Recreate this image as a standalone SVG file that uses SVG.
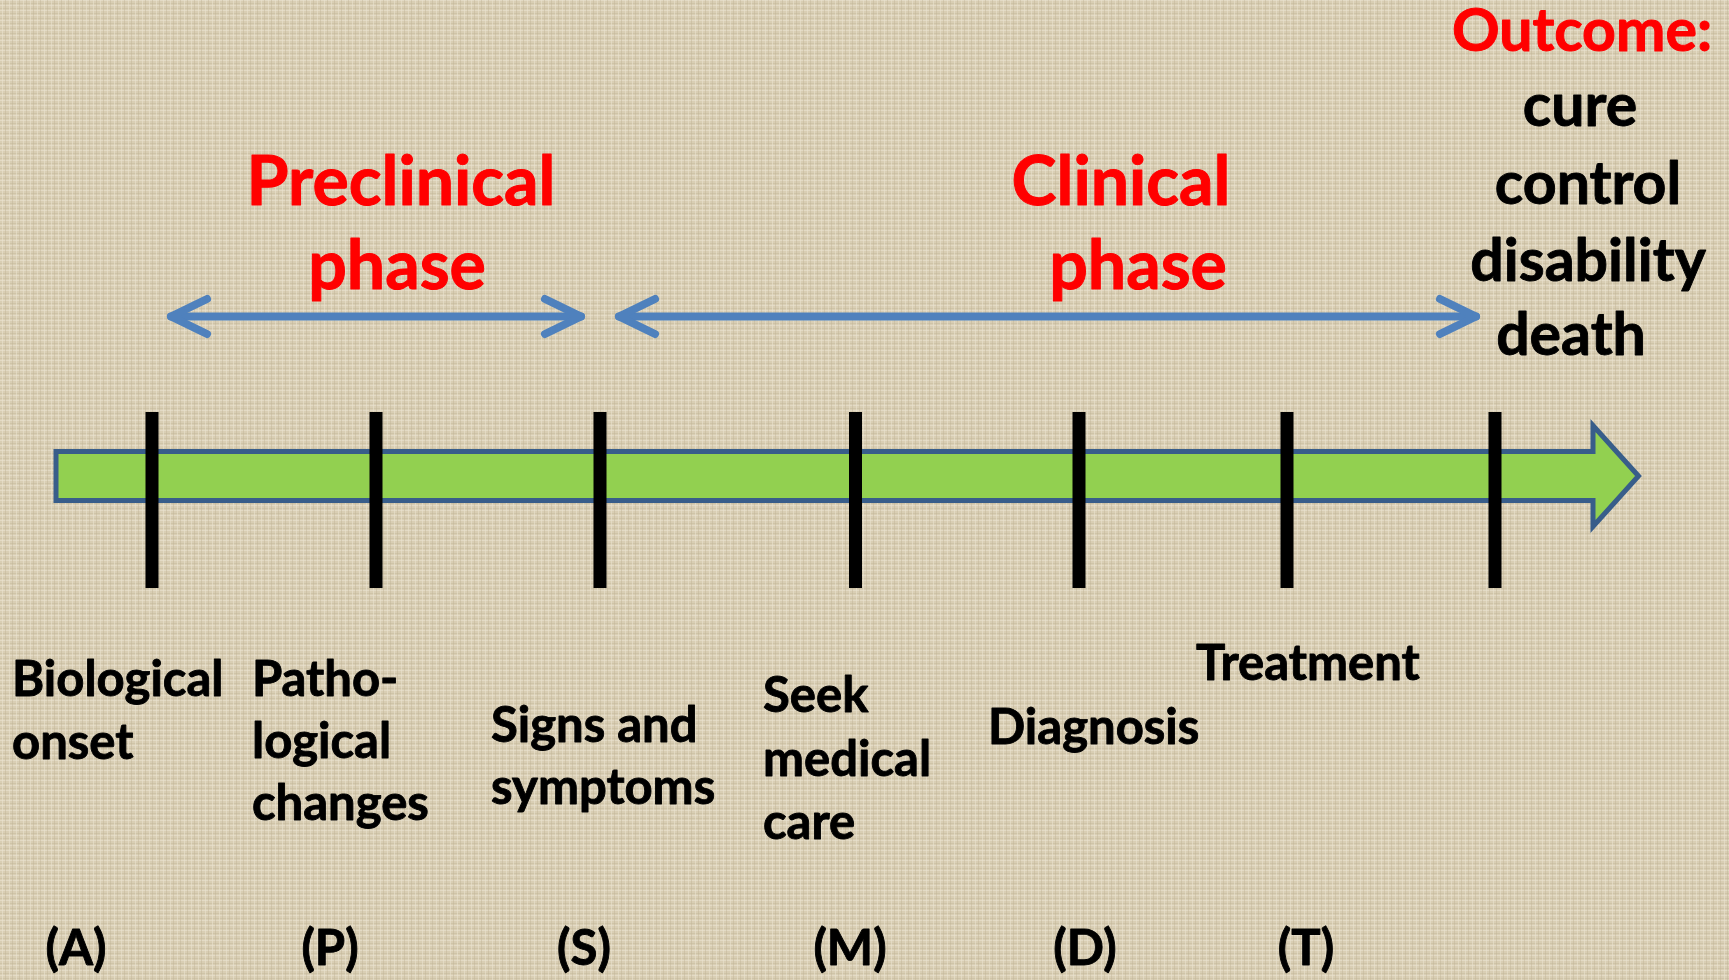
<svg xmlns="http://www.w3.org/2000/svg" width="1729" height="980" viewBox="0 0 1729 980">
<defs>
<pattern id="canvas" width="7" height="5" patternUnits="userSpaceOnUse">
<rect width="7" height="5" fill="#D9CEB4"/>
<rect x="0" y="0" width="7" height="1" fill="#E8E0CC" opacity="0.7"/>
<rect x="0" y="3" width="7" height="1" fill="#C6B99C" opacity="0.5"/>
<rect x="2" y="0" width="1" height="5" fill="#EAE2CF" opacity="0.6"/>
<rect x="5" y="0" width="1" height="5" fill="#C2B497" opacity="0.45"/>
</pattern>
<style>
.t{font-family:Lato,"Liberation Sans",sans-serif;font-weight:bold;stroke-linejoin:round;}
.red{fill:#FF0000;stroke:#FF0000;stroke-width:1;}
.blk{fill:#000000;stroke:#000000;stroke-width:0.9;}
.hd{font-size:68px;}
.oc{font-size:59px;}
.lb{font-size:49px;}
.tick{fill:#000000;}
.phase{stroke:#4F81BD;stroke-width:8;fill:none;stroke-linecap:round;stroke-linejoin:round;}
</style>
</defs>
<rect width="1729" height="980" fill="url(#canvas)"/>

<g id="timeline">
<path d="M56,451.5 H1593 V425.5 L1638.5,476 L1593,526.5 V500.5 H56 Z" fill="#92D050" stroke="#385D8A" stroke-width="5"/>
</g>

<g id="ticks">
<rect class="tick" x="145.5" y="412" width="13" height="176"/>
<rect class="tick" x="369.5" y="412" width="13" height="176"/>
<rect class="tick" x="593.5" y="412" width="13" height="176"/>
<rect class="tick" x="849" y="412" width="13" height="176"/>
<rect class="tick" x="1072.5" y="412" width="13" height="176"/>
<rect class="tick" x="1280.5" y="412" width="13" height="176"/>
<rect class="tick" x="1488.5" y="412" width="13" height="176"/>
</g>

<g id="connectors">
<g id="preclinical-arrow">
<path class="phase" d="M171,316.5 H581"/>
<path class="phase" d="M207,299 L171,316.5 L207,334"/>
<path class="phase" d="M545,299 L581,316.5 L545,334"/>
</g>
<g id="clinical-arrow">
<path class="phase" d="M619,316.5 H1476"/>
<path class="phase" d="M655,299 L619,316.5 L655,334"/>
<path class="phase" d="M1440,299 L1476,316.5 L1440,334"/>
</g>
</g>

<g id="preclinical-label">
<text class="t red hd" x="401" y="205" text-anchor="middle">Preclinical</text>
<text class="t red hd" x="397" y="289" text-anchor="middle">phase</text>
</g>
<g id="clinical-label">
<text class="t red hd" x="1121" y="205" text-anchor="middle">Clinical</text>
<text class="t red hd" x="1138" y="289" text-anchor="middle">phase</text>
</g>

<g id="outcome">
<text class="t red oc" x="1582" y="51" text-anchor="middle">Outcome:</text>
<text class="t blk oc" x="1580" y="126" text-anchor="middle">cure</text>
<text class="t blk oc" x="1588" y="204" text-anchor="middle">control</text>
<text class="t blk oc" x="1588" y="281" text-anchor="middle">disability</text>
<text class="t blk oc" x="1571" y="355" text-anchor="middle">death</text>
</g>

<g id="node-A">
<text class="t blk lb" x="12" y="696">Biological</text>
<text class="t blk lb" x="12" y="759">onset</text>
<text class="t blk lb" x="76" y="965" text-anchor="middle">(A)</text>
</g>
<g id="node-P">
<text class="t blk lb" x="252" y="696">Patho-</text>
<text class="t blk lb" x="252" y="758">logical</text>
<text class="t blk lb" x="252" y="820">changes</text>
<text class="t blk lb" x="330" y="965" text-anchor="middle">(P)</text>
</g>
<g id="node-S">
<text class="t blk lb" x="491" y="742">Signs and</text>
<text class="t blk lb" x="491" y="804">symptoms</text>
<text class="t blk lb" x="584" y="965" text-anchor="middle">(S)</text>
</g>
<g id="node-M">
<text class="t blk lb" x="763" y="712">Seek</text>
<text class="t blk lb" x="763" y="776">medical</text>
<text class="t blk lb" x="763" y="839">care</text>
<text class="t blk lb" x="850" y="965" text-anchor="middle">(M)</text>
</g>
<g id="node-D">
<text class="t blk lb" x="988" y="744">Diagnosis</text>
<text class="t blk lb" x="1085" y="965" text-anchor="middle">(D)</text>
</g>
<g id="node-T">
<text class="t blk lb" x="1196" y="680">Treatment</text>
<text class="t blk lb" x="1306" y="965" text-anchor="middle">(T)</text>
</g>
</svg>
